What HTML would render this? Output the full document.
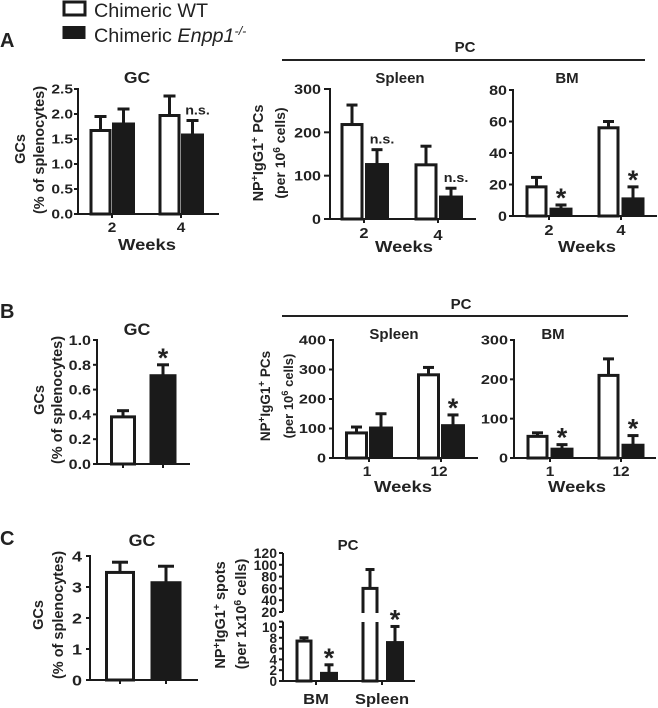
<!DOCTYPE html>
<html lang="en">
<head>
<meta charset="utf-8">
<title>Chimeric WT vs Enpp1 knockout bar charts</title>
<style>
html,body{margin:0;padding:0;background:#fff;width:658px;height:708px;overflow:hidden}
svg{display:block}
text{font-family:"Liberation Sans",sans-serif;fill:#222}
.b{font-weight:bold}
</style>
</head>
<body>
<svg id="fig" width="658" height="708" viewBox="0 0 658 708" xmlns="http://www.w3.org/2000/svg">
  <g>
    <rect x="64" y="2" width="21" height="13" fill="#fff" stroke="#1a1a1a" stroke-width="3"/>
    <rect x="62.5" y="26" width="23" height="13" fill="#1a1a1a"/>
    <text transform="translate(94,17) scale(1.04,1)" font-size="19">Chimeric WT</text>
    <text transform="translate(94,42) scale(1.04,1)" font-size="19">Chimeric <tspan font-style="italic">Enpp1</tspan><tspan font-style="italic" font-size="12" dy="-7">-/-</tspan></text>
  </g>
  <text class="b" x="0" y="47" font-size="20">A</text>
  <text class="b" x="0" y="318" font-size="20">B</text>
  <text class="b" x="0" y="545" font-size="20">C</text>
  <text class="b" x="465" y="52" font-size="15" text-anchor="middle">PC</text>
  <rect x="282" y="59" width="363" height="2" fill="#222"/>
  <text class="b" x="461" y="309" font-size="15" text-anchor="middle">PC</text>
  <rect x="282" y="315" width="346" height="2" fill="#222"/>
</svg>
<script>
// ---- chart data ----
const weeksA = ['2', '4'];
const weeksB = ['1', '12'];
const groupsSingle = ['', ''];
const groupsC = ['BM', 'Spleen'];

const ticksAGC = ['0.0', '0.5', '1.0', '1.5', '2.0', '2.5'];
const ticksASpleen = ['0', '100', '200', '300'];
const ticksABM = ['0', '20', '40', '60', '80'];
const ticksBGC = ['0.0', '0.2', '0.4', '0.6', '0.8', '1.0'];
const ticksBSpleen = ['0', '100', '200', '300', '400'];
const ticksBBM = ['0', '100', '200', '300'];
const ticksCGC = ['0', '1', '2', '3', '4'];
const ticksCLower = ['0', '2', '4', '6', '8', '10'];
const ticksCUpper = ['20', '40', '60', '80', '100', '120'];

const aGCWT = [1.67, 1.97];
const aGCWTErr = [0.28, 0.39];
const aGCKO = [1.82, 1.6];
const aGCKOErr = [0.28, 0.27];
const aGCKOMarks = ['', 'n.s.'];

const aSpleenWT = [218, 125];
const aSpleenWTErr = [45, 43];
const aSpleenKO = [128, 53];
const aSpleenKOErr = [32, 18];
const aSpleenKOMarks = ['n.s.', 'n.s.'];

const aBMWT = [18.5, 56];
const aBMWTErr = [6, 4];
const aBMKO = [5, 11.5];
const aBMKOErr = [2, 7];
const aBMKOMarks = ['*', '*'];

const bGCValues = [0.38, 0.72];
const bGCErr = [0.05, 0.08];
const bGCMarks = ['', '*'];

const bSpleenWT = [85, 282];
const bSpleenWTErr = [20, 25];
const bSpleenKO = [105, 113];
const bSpleenKOErr = [45, 33];
const bSpleenKOMarks = ['', '*'];

const bBMWT = [55, 210];
const bBMWTErr = [9, 42];
const bBMKO = [25, 35];
const bBMKOErr = [9, 22];
const bBMKOMarks = ['*', '*'];

const cGCValues = [3.47, 3.17];
const cGCErr = [0.33, 0.5];
const cGCMarks = ['', ''];

const cPCWT = [7.4, 60];
const cPCWTErr = [0.6, 32];
const cPCKO = [1.6, 7.3];
const cPCKOErr = [1.4, 2.8];
const cPCKOMarks = ['*', '*'];

// ---- drawing ----
const NS = 'http://www.w3.org/2000/svg';
const fig = document.getElementById('fig');
const INK = '#1a1a1a';

function make(tag, attrs, parent) {
  const el = document.createElementNS(NS, tag);
  for (const k in attrs) el.setAttribute(k, attrs[k]);
  parent.appendChild(el);
  return el;
}

function lineTo(parent, x1, y1, x2, y2, w) {
  const el = make('line', {x1: x1, y1: y1, x2: x2, y2: y2, stroke: INK, 'stroke-width': w}, parent);
  
  
  return el;
}

function label(parent, x, y, str, size, anchor, sx, name) {
  const el = make('text', {
    transform: 'translate(' + x + ',' + y + ') scale(' + sx + ',1)',
    'font-size': size, 'text-anchor': anchor, 'class': 'b'
  }, parent);
  el.textContent = str;
  
  
  return el;
}

// parts: plain strings are normal text, ['x'] entries are superscripts
function yTitle(parent, x, y, size, parts, name) {
  const el = make('text', {
    transform: 'translate(' + x + ',' + y + ') rotate(-90)',
    'font-size': size, 'text-anchor': 'middle', 'class': 'b'
  }, parent);
  
  
  let raised = false;
  parts.forEach(function (p) {
    const s = make('tspan', {}, el);
    if (Array.isArray(p)) {
      s.textContent = p[0];
      s.setAttribute('font-size', size * 0.72);
      s.setAttribute('dy', -5);
      raised = true;
    } else {
      s.textContent = p;
      if (raised) s.setAttribute('dy', 5);
      raised = false;
    }
  });
}

function drawBar(parent, cx, w, top, base, filled) {
  const el = make('rect', {
    x: cx - w / 2 + (filled ? 0 : 1.5),
    y: top,
    width: w - (filled ? 0 : 3),
    height: base - top,
    fill: filled ? INK : '#fff',
    stroke: INK,
    'stroke-width': filled ? 1 : 3
  }, parent);
  
  
}

function drawErr(parent, cx, capW, yTop, yBase) {
  const stem = make('line', {x1: cx, x2: cx, y1: yTop, y2: yBase, stroke: INK, 'stroke-width': 3}, parent);
  
  
  const cap = make('line', {x1: cx - capW / 2, x2: cx + capW / 2, y1: yTop, y2: yTop, stroke: INK, 'stroke-width': 3}, parent);
  
  
}

function drawMark(parent, cx, errY, mark) {
  if (!mark) return;
  if (mark === '*') {
    label(parent, cx, errY + 2, '*', 27, 'middle', 1, 'significance-star');
  } else {
    label(parent, cx + 5, errY - 6, mark, 13, 'middle', 1.1, 'not-significant-label');
  }
}

function panel(p) {
  const g = make('g', {}, fig);
  
  
  const Y = p.scale || function (v) { return p.y0 - (v / p.max) * (p.y0 - p.yTop); };
  const X = function (i) { return p.tick0 + i * p.step; };

  // bars with error bars
  p.series.forEach(function (s, si) {
    s.values.forEach(function (v, i) {
      const cx = X(i) + s.off;
      const errY = Y(v + s.errs[i]);
      drawErr(g, cx, p.capW, errY, Y(v));
      const filled = s.fills ? s.fills[i] : s.filled;
      drawBar(g, cx, p.barW, Y(v), p.y0, filled);
      drawMark(g, cx, errY, s.marks ? s.marks[i] : '');
    });
  });

  // axes
  if (!p.skipYAxis) {
    lineTo(g, p.ax, p.yTop - 1, p.ax, p.y0 + 1, 2);
    p.ticks.forEach(function (t) {
      const y = Y(parseFloat(t));
      lineTo(g, p.ax - p.tickLen, y, p.ax, y, 2);
      label(g, p.ax - p.labelGap, y + p.tickSize * 0.36, t, p.tickSize, 'end', p.tickSx, 'y-tick-label');
    });
  }
  lineTo(g, p.ax - p.tickLen, p.y0, p.xEnd, p.y0, 2);
  p.cats.forEach(function (c, i) {
    lineTo(g, X(i), p.y0, X(i), p.y0 + 4, 2);
    if (c) {
      const by = p.catY[i];
      label(g, X(i) + (p.catDx || 0), by, c, p.catSize || 14, 'middle', p.catSx || 1.1, 'x-tick-label');
    }
  });
  return {g: g, Y: Y};
}

// ---- Panel A ----
const a1 = panel({
  name: 'chart-a-gc', ax: 78, y0: 214, yTop: 89, max: 2.5, xEnd: 219, tick0: 112, step: 69,
  cats: weeksA, catY: [232, 232], ticks: ticksAGC, tickLen: 4, labelGap: 5, tickSize: 13, tickSx: 1.2,
  barW: 22, capW: 12,
  series: [
    {values: aGCWT, errs: aGCWTErr, off: -11.5, filled: false},
    {values: aGCKO, errs: aGCKOErr, off: 11.5, filled: true, marks: aGCKOMarks}
  ]
});
label(a1.g, 137, 83, 'GC', 16, 'middle', 1.1, 'chart-title');
label(a1.g, 147, 250, 'Weeks', 16, 'middle', 1.15, 'x-axis-title');
yTitle(a1.g, 25, 149, 14.5, ['GCs'], 'y-axis-title');
yTitle(a1.g, 44, 150, 14.5, ['(% of splenocytes)'], 'y-axis-subtitle');

const a2 = panel({
  name: 'chart-a-spleen', ax: 330, y0: 219, yTop: 89, max: 300, xEnd: 476, tick0: 364, step: 74,
  cats: weeksA, catY: [238, 240], ticks: ticksASpleen, tickLen: 6, labelGap: 9, tickSize: 14, tickSx: 1.15,
  barW: 23, capW: 11, catSize: 15,
  series: [
    {values: aSpleenWT, errs: aSpleenWTErr, off: -12, filled: false},
    {values: aSpleenKO, errs: aSpleenKOErr, off: 13, filled: true, marks: aSpleenKOMarks}
  ]
});
label(a2.g, 400, 83, 'Spleen', 15, 'middle', 1, 'chart-title');
label(a2.g, 404, 252, 'Weeks', 16, 'middle', 1.15, 'x-axis-title');
yTitle(a2.g, 263, 153, 14.5, ['NP', ['+'], 'IgG1', ['+'], ' PCs'], 'y-axis-title');
yTitle(a2.g, 285, 153, 14, ['(per 10', ['6'], ' cells)'], 'y-axis-subtitle');

const a3 = panel({
  name: 'chart-a-bm', ax: 513, y0: 216, yTop: 90, max: 80, xEnd: 657, tick0: 549, step: 72,
  cats: weeksA, catY: [235, 235], ticks: ticksABM, tickLen: 4, labelGap: 6, tickSize: 14, tickSx: 1.15,
  barW: 22, capW: 11, catSize: 15,
  series: [
    {values: aBMWT, errs: aBMWTErr, off: -12.5, filled: false},
    {values: aBMKO, errs: aBMKOErr, off: 12, filled: true, marks: aBMKOMarks}
  ]
});
label(a3.g, 567, 83, 'BM', 15, 'middle', 1, 'chart-title');
label(a3.g, 587, 252, 'Weeks', 16, 'middle', 1.15, 'x-axis-title');

// ---- Panel B ----
const b1 = panel({
  name: 'chart-b-gc', ax: 97, y0: 464, yTop: 340, max: 1, xEnd: 190, tick0: 123, step: 40,
  cats: groupsSingle, catY: [0, 0], ticks: ticksBGC, tickLen: 4, labelGap: 6, tickSize: 14, tickSx: 1.15,
  barW: 26, capW: 12,
  series: [
    {values: bGCValues, errs: bGCErr, off: 0, fills: [false, true], marks: bGCMarks}
  ]
});
label(b1.g, 137, 335, 'GC', 17, 'middle', 1.05, 'chart-title');
yTitle(b1.g, 44, 400, 14.5, ['GCs'], 'y-axis-title');
yTitle(b1.g, 62, 400, 14.5, ['(% of splenocytes)'], 'y-axis-subtitle');

const b2 = panel({
  name: 'chart-b-spleen', ax: 333, y0: 458, yTop: 340, max: 400, xEnd: 478, tick0: 369, step: 72,
  cats: weeksB, catY: [476, 476], ticks: ticksBSpleen, tickLen: 4, labelGap: 7, tickSize: 13, tickSx: 1.25,
  barW: 23, capW: 11, catDx: -2,
  series: [
    {values: bSpleenWT, errs: bSpleenWTErr, off: -12.5, filled: false},
    {values: bSpleenKO, errs: bSpleenKOErr, off: 12, filled: true, marks: bSpleenKOMarks}
  ]
});
label(b2.g, 394, 339, 'Spleen', 15, 'middle', 1, 'chart-title');
label(b2.g, 403, 492, 'Weeks', 16, 'middle', 1.15, 'x-axis-title');
yTitle(b2.g, 270, 396, 13.5, ['NP', ['+'], 'IgG1', ['+'], ' PCs'], 'y-axis-title');
yTitle(b2.g, 293, 396, 13, ['(per 10', ['6'], ' cells)'], 'y-axis-subtitle');

const b3 = panel({
  name: 'chart-b-bm', ax: 514, y0: 458, yTop: 340, max: 300, xEnd: 656, tick0: 550, step: 71,
  cats: weeksB, catY: [476, 476], ticks: ticksBBM, tickLen: 4, labelGap: 6, tickSize: 13, tickSx: 1.25,
  barW: 22, capW: 11,
  series: [
    {values: bBMWT, errs: bBMWTErr, off: -12.5, filled: false},
    {values: bBMKO, errs: bBMKOErr, off: 12, filled: true, marks: bBMKOMarks}
  ]
});
label(b3.g, 553, 339, 'BM', 15, 'middle', 1, 'chart-title');
label(b3.g, 577, 492, 'Weeks', 16, 'middle', 1.15, 'x-axis-title');

// ---- Panel C ----
const c1 = panel({
  name: 'chart-c-gc', ax: 90, y0: 680, yTop: 556, max: 4, xEnd: 198, tick0: 120, step: 46,
  cats: groupsSingle, catY: [0, 0], ticks: ticksCGC, tickLen: 4, labelGap: 8, tickSize: 15, tickSx: 1.2,
  barW: 30, capW: 16,
  series: [
    {values: cGCValues, errs: cGCErr, off: 0, fills: [false, true], marks: cGCMarks}
  ]
});
label(c1.g, 142, 546, 'GC', 17, 'middle', 1.05, 'chart-title');
yTitle(c1.g, 43, 615, 14.5, ['GCs'], 'y-axis-title');
yTitle(c1.g, 63, 615, 14.5, ['(% of splenocytes)'], 'y-axis-subtitle');

// broken axis scales for panel C PC
function cLower(v) { return 681 - v * 5.4; }
function cUpper(v) { return 612 - (v - 20) * 0.59; }
function cScale(v) { return v <= 11 ? cLower(v) : cUpper(v); }

const c2 = panel({
  name: 'chart-c-pc', ax: 283, y0: 681, yTop: 553, max: 120, xEnd: 415, tick0: 316, step: 66,
  cats: groupsC, catY: [704, 704], ticks: [], tickLen: 4, labelGap: 6, tickSize: 13, tickSx: 1,
  barW: 17, capW: 9, catSize: 15, catSx: 1.1, skipYAxis: true, scale: cScale,
  series: [
    {values: cPCWT, errs: cPCWTErr, off: -12, filled: false},
    {values: cPCKO, errs: cPCKOErr, off: 13, filled: true, marks: cPCKOMarks}
  ]
});
const cAxisGap = make('rect', {x: 275, y: 613, width: 110, height: 9, fill: '#fff'}, c2.g);


lineTo(c2.g, 283, cUpper(120), 283, cUpper(20), 2);
lineTo(c2.g, 283, cLower(11), 283, cLower(0), 2);
lineTo(c2.g, 279, cLower(11), 283, cLower(11), 2);
ticksCUpper.forEach(function (t) {
  const y = cUpper(parseFloat(t));
  lineTo(c2.g, 279, y, 283, y, 2);
  label(c2.g, 277, y + 5, t, 14, 'end', 1, 'y-tick-label');
});
ticksCLower.forEach(function (t) {
  const y = cLower(parseFloat(t));
  lineTo(c2.g, 279, y, 283, y, 2);
  label(c2.g, 277, y + 5, t, 13.5, 'end', 1, 'y-tick-label');
});
label(c2.g, 348, 550, 'PC', 15, 'middle', 1, 'chart-title');
yTitle(c2.g, 225, 615, 14.5, ['NP', ['+'], 'IgG1', ['+'], ' spots'], 'y-axis-title');
yTitle(c2.g, 246, 614, 14.5, ['(per 1x10', ['6'], ' cells)'], 'y-axis-subtitle');
</script>
</body>
</html>
